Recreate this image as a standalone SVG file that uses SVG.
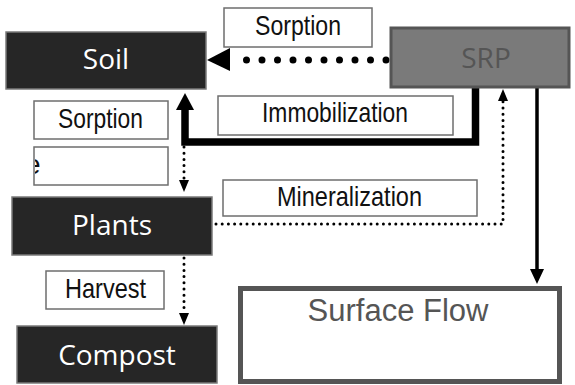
<svg xmlns="http://www.w3.org/2000/svg" width="575" height="385" viewBox="0 0 575 385">
<style>
.dark{fill:#262626;stroke:#7a7a7a;stroke-width:1.5}
.lbl{fill:#fff;stroke:#6e6e6e;stroke-width:1.5}
.nt{font-family:"Open Sans","Noto Sans",sans-serif;font-size:28px;fill:#fff;text-anchor:middle}
.lt{font-family:"Liberation Sans",Arial,sans-serif;font-size:28px;fill:#111;text-anchor:middle}
.dotb{fill:none;stroke:#000;stroke-width:7;stroke-linecap:round;stroke-dasharray:0 15.5}
.dots{fill:none;stroke:#000;stroke-width:3;stroke-linecap:round;stroke-dasharray:0 6.2}
</style>
<defs>
<clipPath id="clipE"><rect x="35" y="147" width="133" height="38"/></clipPath>
</defs>
<g id="label-sorption-top"><rect class="lbl" x="224" y="8" width="148" height="39"/><text class="lt" x="298" y="35" textLength="86" lengthAdjust="spacingAndGlyphs">Sorption</text></g>
<g id="label-sorption-left"><rect class="lbl" x="34" y="101" width="134" height="38"/><text class="lt" x="100.5" y="127.5" textLength="85" lengthAdjust="spacingAndGlyphs">Sorption</text></g>
<g id="label-uptake"><rect class="lbl" x="34" y="147" width="134" height="38"/><text class="lt" x="25" y="174" clip-path="url(#clipE)" style="text-anchor:start">e</text></g>
<g id="label-immobilization"><rect class="lbl" x="218" y="96" width="235" height="39"/><text class="lt" x="335" y="121.5" textLength="146" lengthAdjust="spacingAndGlyphs">Immobilization</text></g>
<g id="label-mineralization"><rect class="lbl" x="223" y="180" width="254" height="36"/><text class="lt" x="349.5" y="206" textLength="145" lengthAdjust="spacingAndGlyphs">Mineralization</text></g>
<g id="label-harvest"><rect class="lbl" x="46" y="271" width="118" height="38"/><text class="lt" x="105.5" y="298" textLength="81" lengthAdjust="spacingAndGlyphs">Harvest</text></g>
<g id="connectors">
<path class="dotb" d="M386,60 H234"/>
<polygon points="207,60 230,48 230,71" fill="#000"/>
<path d="M475.5,87 V142 H185 V108" fill="none" stroke="#000" stroke-width="7.5" stroke-linejoin="miter"/>
<polygon points="185,93 176,110 194,110" fill="#000"/>
<path class="dots" d="M184,147 V178"/>
<polygon points="184,192 179,180 189,180" fill="#000"/>
<path class="dots" d="M216,224 H503 V101"/>
<polygon points="503,89 498,101 508,101" fill="#000"/>
<path class="dots" d="M184,258 V311"/>
<polygon points="184,325 179,313 189,313" fill="#000"/>
<path d="M537,87 V271" fill="none" stroke="#000" stroke-width="3.5"/>
<polygon points="537,284 530,269 544,269" fill="#000"/>
</g>
<g id="node-soil"><rect class="dark" x="6" y="32" width="200" height="57"/><text class="nt" x="106" y="69">Soil</text></g>
<g id="node-srp"><rect x="391" y="28" width="178" height="59" fill="#7a7a7a" stroke="#555" stroke-width="3"/><text class="nt" x="486" y="68" style="fill:#555">SRP</text></g>
<g id="node-plants"><rect class="dark" x="12" y="197" width="200" height="58"/><text class="nt" x="112" y="235">Plants</text></g>
<g id="node-compost"><rect class="dark" x="17" y="326" width="200" height="57"/><text class="nt" x="117" y="365">Compost</text></g>
<g id="node-surface-flow"><rect x="240.5" y="288.5" width="319" height="93" fill="#fff" stroke="#555" stroke-width="5"/><text x="398" y="321" font-family="Liberation Sans, Arial, sans-serif" font-size="31" fill="#555" text-anchor="middle">Surface Flow</text></g>
</svg>
